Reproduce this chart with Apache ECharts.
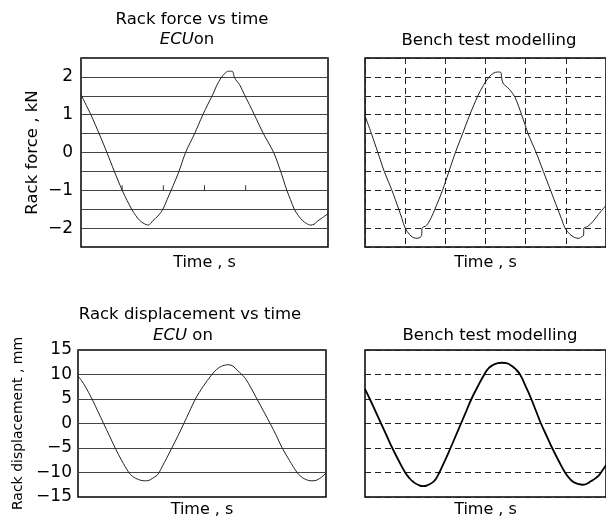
<!DOCTYPE html>
<html>
<head>
<meta charset="utf-8">
<script src="https://cdn.jsdelivr.net/npm/echarts@6/dist/echarts.min.js"></script>
<style>
html,body{margin:0;padding:0;background:#fff}
#chart{width:606px;height:519px}
</style>
</head>
<body>
<div id="chart"></div>
<script>
// time in grid units (0..6), one unit = one vertical grid step of the bench plot
// 上左: 齿条力 ECU on
var forceEcuT = [0, 0.24, 0.44, 0.63, 0.81, 1.0, 1.12, 1.23, 1.33, 1.43, 1.53, 1.63, 1.69, 1.75, 1.87, 1.99, 2.09, 2.19, 2.38, 2.54, 2.76, 2.96, 3.08, 3.2, 3.3, 3.4, 3.5, 3.58, 3.67, 3.73, 3.79, 3.85, 3.97, 4.09, 4.21, 4.43, 4.68, 4.85, 5.0, 5.09, 5.18, 5.28, 5.38, 5.48, 5.58, 5.66, 5.74, 5.87, 6.0];
var forceEcuV = [1.53, 1.0, 0.5, 0, -0.5, -1.0, -1.27, -1.5, -1.67, -1.8, -1.88, -1.92, -1.88, -1.8, -1.68, -1.5, -1.25, -1.0, -0.5, 0, 0.5, 1.0, 1.27, 1.53, 1.78, 1.97, 2.1, 2.15, 2.15, 1.98, 1.88, 1.8, 1.53, 1.27, 1.0, 0.5, 0, -0.5, -1.0, -1.25, -1.5, -1.67, -1.8, -1.88, -1.92, -1.9, -1.82, -1.72, -1.62];
// 上右: bench test
var forceBenchT = [0, 0.16, 0.32, 0.48, 0.67, 0.84, 0.92, 1.0, 1.1, 1.2, 1.3, 1.38, 1.41, 1.42, 1.53, 1.64, 1.74, 1.93, 2.09, 2.25, 2.43, 2.61, 2.81, 2.95, 3.09, 3.2, 3.3, 3.38, 3.41, 3.45, 3.55, 3.65, 3.74, 3.9, 4.06, 4.26, 4.44, 4.62, 4.8, 4.89, 4.98, 5.1, 5.22, 5.32, 5.41, 5.44, 5.45, 5.54, 5.68, 5.81, 6.0];
var forceBenchV = [0.97, 0.5, 0, -0.5, -1.0, -1.5, -1.75, -2.0, -2.16, -2.25, -2.27, -2.24, -2.2, -2.0, -1.93, -1.74, -1.5, -1.0, -0.5, 0, 0.5, 1.0, 1.5, 1.78, 2.0, 2.1, 2.13, 2.12, 1.92, 1.81, 1.72, 1.6, 1.45, 1.0, 0.5, 0, -0.5, -1.0, -1.5, -1.75, -2.0, -2.16, -2.25, -2.27, -2.22, -2.2, -2.0, -1.96, -1.82, -1.64, -1.4];
// 下左: 齿条位移 ECU on
var dispEcuT = [0, 0.09, 0.18, 0.34, 0.48, 0.62, 0.76, 0.9, 1.06, 1.23, 1.32, 1.4, 1.52, 1.63, 1.72, 1.8, 1.91, 1.97, 2.03, 2.15, 2.27, 2.42, 2.56, 2.7, 2.84, 3.03, 3.24, 3.35, 3.45, 3.55, 3.65, 3.75, 3.85, 3.95, 4.05, 4.19, 4.33, 4.49, 4.65, 4.8, 4.94, 5.12, 5.3, 5.39, 5.48, 5.57, 5.66, 5.76, 5.85, 5.93, 6.0];
var dispEcuV = [9.7, 8.7, 7.5, 5, 2.5, 0, -2.5, -5, -7.6, -10, -10.8, -11.2, -11.6, -11.7, -11.6, -11.2, -10.6, -9.9, -8.9, -7, -5, -2.5, 0, 2.5, 5, 7.6, 10, 11, 11.6, 11.9, 12.0, 11.7, 10.9, 10.1, 9.2, 7.2, 5, 2.5, 0, -2.5, -5, -7.6, -10, -10.8, -11.3, -11.6, -11.7, -11.6, -11.2, -10.7, -10.1];
// 下右: bench test
var dispBenchT = [0, 0.12, 0.26, 0.4, 0.54, 0.68, 0.84, 1.0, 1.1, 1.2, 1.32, 1.45, 1.58, 1.7, 1.78, 1.85, 1.99, 2.13, 2.26, 2.39, 2.52, 2.65, 2.81, 2.97, 3.08, 3.2, 3.3, 3.41, 3.52, 3.63, 3.75, 3.86, 4.0, 4.14, 4.26, 4.38, 4.52, 4.66, 4.82, 4.98, 5.08, 5.18, 5.3, 5.41, 5.52, 5.62, 5.72, 5.81, 5.9, 6.0];
var dispBenchV = [7.0, 5, 2.5, 0, -2.5, -5, -7.6, -10, -11.1, -11.9, -12.5, -12.8, -12.5, -11.9, -11.1, -10, -7.6, -5, -2.5, 0, 2.5, 5, 7.6, 10, 11.3, 12.0, 12.3, 12.4, 12.3, 11.9, 11.1, 10, 7.6, 5, 2.5, 0, -2.5, -5, -7.6, -10, -11.1, -11.9, -12.3, -12.5, -12.3, -11.8, -11.3, -10.7, -9.7, -8.5];
// small tick marks sitting on the -1 kN line
var forceTickT = [1, 2, 3, 4];
var forceTickV = [-1, -1, -1, -1];

function pairs(t, v) {
    var out = [];
    for (var i = 0; i < t.length; i++) out.push([t[i], v[i]]);
    return out;
}
function minus(v) {
    return String(v).replace('-', '\u2212');
}

var FONT = '"DejaVu Sans", sans-serif';
var chart = echarts.init(document.getElementById('chart'));

function xAxisOf(gi, dashedGrid, gap) {
    return {
        type: 'value', gridIndex: gi, min: 0, max: 6, interval: 1,
        name: 'Time , s', nameLocation: 'middle', nameGap: gap,
        nameTextStyle: { fontFamily: FONT, fontSize: 16, color: '#000' },
        axisLine: { show: false }, axisTick: { show: false }, axisLabel: { show: false },
        splitLine: { show: dashedGrid, lineStyle: { color: '#222', width: 1, type: [6, 4] } }
    };
}

var option = {
    animation: false,
    backgroundColor: '#fff',
    grid: [
        { left: 81, top: 58, width: 247, height: 189, show: true, borderColor: '#000', borderWidth: 1.5 },
        { left: 365, top: 58, width: 249, height: 189, show: true, borderColor: '#000', borderWidth: 1.5 },
        { left: 78, top: 350, width: 248, height: 148, show: true, borderColor: '#000', borderWidth: 1.5 },
        { left: 365, top: 350, width: 249, height: 148, show: true, borderColor: '#000', borderWidth: 1.5 }
    ],
    xAxis: [
        xAxisOf(0, false, 8),
        xAxisOf(1, true, 8),
        xAxisOf(2, false, 5),
        xAxisOf(3, false, 5)
    ],
    yAxis: [
        {
            type: 'value', gridIndex: 0, min: -2.5, max: 2.5, interval: 0.5,
            name: 'Rack force , kN', nameLocation: 'middle', nameGap: 40,
            nameTextStyle: { fontFamily: FONT, fontSize: 16.5, color: '#000' },
            axisLine: { show: false }, axisTick: { show: false },
            axisLabel: {
                margin: 8, fontFamily: FONT, fontSize: 17, color: '#000',
                formatter: function (v) { return (Math.round(v) === v) ? minus(v) : ''; }
            },
            splitLine: { lineStyle: { color: '#444', width: 1 } }
        },
        {
            type: 'value', gridIndex: 1, min: -2.5, max: 2.5, interval: 0.5,
            axisLine: { show: false }, axisTick: { show: false }, axisLabel: { show: false },
            splitLine: { lineStyle: { color: '#222', width: 1, type: [6, 4] } }
        },
        {
            type: 'value', gridIndex: 2, min: -15, max: 15, interval: 5,
            name: 'Rack displacement , mm', nameLocation: 'middle', nameGap: 53,
            nameTextStyle: { fontFamily: FONT, fontSize: 14, color: '#000' },
            axisLine: { show: false }, axisTick: { show: false },
            axisLabel: { margin: 6, fontFamily: FONT, fontSize: 17, color: '#000', formatter: minus },
            splitLine: { lineStyle: { color: '#444', width: 1 } }
        },
        {
            type: 'value', gridIndex: 3, min: -15, max: 15, interval: 5,
            axisLine: { show: false }, axisTick: { show: false }, axisLabel: { show: false },
            splitLine: { lineStyle: { color: '#222', width: 1, type: [6, 4] } }
        }
    ],
    graphic: [
        { type: 'text', x: 192, y: 20, style: { text: 'Rack force vs time', font: '16.5px ' + FONT, fill: '#000', align: 'center', verticalAlign: 'middle' } },
        { type: 'text', x: 187, y: 40, style: { text: '{i|ECU}on', font: '16.5px ' + FONT, fill: '#000', align: 'center', verticalAlign: 'middle',
            rich: { i: { font: 'italic 16.5px ' + FONT, fill: '#000' } } } },
        { type: 'text', x: 489, y: 41, style: { text: 'Bench test modelling', font: '16.5px ' + FONT, fill: '#000', align: 'center', verticalAlign: 'middle' } },
        { type: 'text', x: 190, y: 315, style: { text: 'Rack displacement vs time', font: '16.5px ' + FONT, fill: '#000', align: 'center', verticalAlign: 'middle' } },
        { type: 'text', x: 183, y: 336, style: { text: '{i|ECU} on', font: '16.5px ' + FONT, fill: '#000', align: 'center', verticalAlign: 'middle',
            rich: { i: { font: 'italic 16.5px ' + FONT, fill: '#000' } } } },
        { type: 'text', x: 490, y: 336, style: { text: 'Bench test modelling', font: '16.5px ' + FONT, fill: '#000', align: 'center', verticalAlign: 'middle' } }
    ],
    series: [
        {
            type: 'line', xAxisIndex: 0, yAxisIndex: 0, data: pairs(forceEcuT, forceEcuV),
            showSymbol: false, smooth: 0.3, lineStyle: { color: '#222', width: 1 }
        },
        {
            type: 'scatter', xAxisIndex: 0, yAxisIndex: 0, data: pairs(forceTickT, forceTickV),
            symbol: 'rect', symbolSize: [1, 5], symbolOffset: [0, -2.5], itemStyle: { color: '#000' }
        },
        {
            type: 'line', xAxisIndex: 1, yAxisIndex: 1, data: pairs(forceBenchT, forceBenchV),
            showSymbol: false, smooth: 0.3, lineStyle: { color: '#222', width: 1 }
        },
        {
            type: 'line', xAxisIndex: 2, yAxisIndex: 2, data: pairs(dispEcuT, dispEcuV),
            showSymbol: false, smooth: 0.3, lineStyle: { color: '#222', width: 1 }
        },
        {
            type: 'line', xAxisIndex: 3, yAxisIndex: 3, data: pairs(dispBenchT, dispBenchV),
            showSymbol: false, smooth: 0.5, lineStyle: { color: '#000', width: 1.8 }
        }
    ]
};
chart.setOption(option);
</script>
</body>
</html>
